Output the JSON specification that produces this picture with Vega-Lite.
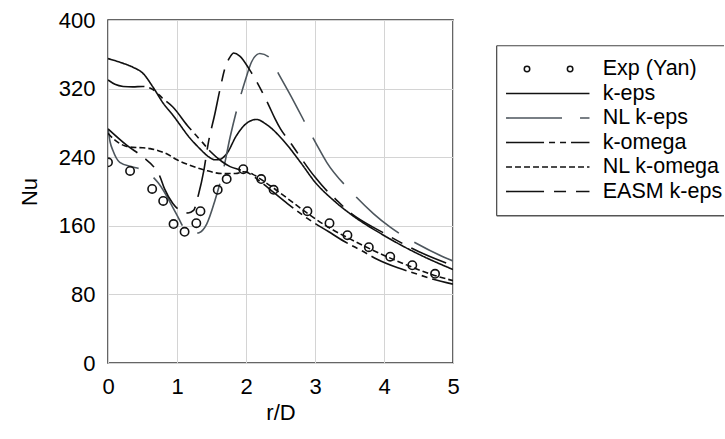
{
  "$schema": "https://vega.github.io/schema/vega-lite/v6.json",
  "background": "white",
  "padding": {"left": 17, "top": 8, "right": 0, "bottom": 0},
  "bounds": "flush",
  "spacing": 43,
  "datasets": {
    "curves": [
      {"series":"k-eps","x":0,"y":355},{"series":"k-eps","x":0.2,"y":350},{"series":"k-eps","x":0.36,"y":345},{"series":"k-eps","x":0.51,"y":337.5},{"series":"k-eps","x":0.65,"y":322},{"series":"k-eps","x":0.8,"y":303},{"series":"k-eps","x":0.95,"y":288},{"series":"k-eps","x":1.05,"y":277},{"series":"k-eps","x":1.15,"y":266},{"series":"k-eps","x":1.33,"y":250},{"series":"k-eps","x":1.45,"y":241},{"series":"k-eps","x":1.55,"y":237},{"series":"k-eps","x":1.62,"y":237.5},{"series":"k-eps","x":1.72,"y":244},{"series":"k-eps","x":1.86,"y":265},{"series":"k-eps","x":2.0,"y":279},{"series":"k-eps","x":2.15,"y":284},{"series":"k-eps","x":2.3,"y":278},{"series":"k-eps","x":2.54,"y":259.6},{"series":"k-eps","x":2.79,"y":234},{"series":"k-eps","x":3.0,"y":211},{"series":"k-eps","x":3.27,"y":189.6},{"series":"k-eps","x":3.51,"y":174},{"series":"k-eps","x":4.0,"y":148.7},{"series":"k-eps","x":4.5,"y":127},{"series":"k-eps","x":5.0,"y":109},
      {"series":"NL k-eps","x":0,"y":273},{"series":"NL k-eps","x":0.03,"y":258},{"series":"NL k-eps","x":0.07,"y":248},{"series":"NL k-eps","x":0.17,"y":234},{"series":"NL k-eps","x":0.36,"y":228.5},{"series":"NL k-eps","x":0.53,"y":224.6},{"series":"NL k-eps","x":0.73,"y":209.8},{"series":"NL k-eps","x":0.99,"y":174},{"series":"NL k-eps","x":1.11,"y":156.5},{"series":"NL k-eps","x":1.24,"y":151},{"series":"NL k-eps","x":1.32,"y":152},{"series":"NL k-eps","x":1.43,"y":162},{"series":"NL k-eps","x":1.55,"y":189.6},{"series":"NL k-eps","x":1.67,"y":224.6},{"series":"NL k-eps","x":1.77,"y":263.5},{"series":"NL k-eps","x":1.89,"y":302.5},{"series":"NL k-eps","x":1.99,"y":329.7},{"series":"NL k-eps","x":2.08,"y":351},{"series":"NL k-eps","x":2.2,"y":361},{"series":"NL k-eps","x":2.33,"y":357},{"series":"NL k-eps","x":2.47,"y":337.5},{"series":"NL k-eps","x":2.62,"y":316},{"series":"NL k-eps","x":3.03,"y":253.8},{"series":"NL k-eps","x":3.17,"y":234},{"series":"NL k-eps","x":3.51,"y":201},{"series":"NL k-eps","x":3.85,"y":174},{"series":"NL k-eps","x":4.09,"y":158.4},{"series":"NL k-eps","x":4.48,"y":139},{"series":"NL k-eps","x":4.87,"y":123.4},{"series":"NL k-eps","x":5,"y":119},
      {"series":"k-omega","x":0,"y":330},{"series":"k-omega","x":0.1,"y":325},{"series":"k-omega","x":0.22,"y":322.5},{"series":"k-omega","x":0.36,"y":322},{"series":"k-omega","x":0.5,"y":322.5},{"series":"k-omega","x":0.65,"y":319},{"series":"k-omega","x":0.8,"y":308},{"series":"k-omega","x":0.94,"y":298.6},{"series":"k-omega","x":1.15,"y":277},{"series":"k-omega","x":1.36,"y":258},{"series":"k-omega","x":1.48,"y":247},{"series":"k-omega","x":1.65,"y":235},{"series":"k-omega","x":1.77,"y":229},{"series":"k-omega","x":1.9,"y":225.5},{"series":"k-omega","x":2.0,"y":223},{"series":"k-omega","x":2.2,"y":212},{"series":"k-omega","x":2.4,"y":199},{"series":"k-omega","x":2.6,"y":186},{"series":"k-omega","x":2.9,"y":168},{"series":"k-omega","x":3.2,"y":153},{"series":"k-omega","x":3.42,"y":142},{"series":"k-omega","x":3.7,"y":130},{"series":"k-omega","x":3.9,"y":121},{"series":"k-omega","x":4.2,"y":111},{"series":"k-omega","x":4.43,"y":105},{"series":"k-omega","x":4.7,"y":98},{"series":"k-omega","x":5,"y":92},
      {"series":"NL k-omega","x":0,"y":268},{"series":"NL k-omega","x":0.07,"y":262},{"series":"NL k-omega","x":0.15,"y":257},{"series":"NL k-omega","x":0.25,"y":253},{"series":"NL k-omega","x":0.36,"y":251.5},{"series":"NL k-omega","x":0.5,"y":251},{"series":"NL k-omega","x":0.61,"y":250},{"series":"NL k-omega","x":0.75,"y":247},{"series":"NL k-omega","x":0.85,"y":244},{"series":"NL k-omega","x":1.0,"y":237},{"series":"NL k-omega","x":1.14,"y":232},{"series":"NL k-omega","x":1.4,"y":225},{"series":"NL k-omega","x":1.65,"y":221},{"series":"NL k-omega","x":1.85,"y":221},{"series":"NL k-omega","x":1.96,"y":223},{"series":"NL k-omega","x":2.1,"y":220},{"series":"NL k-omega","x":2.2,"y":215},{"series":"NL k-omega","x":2.4,"y":204},{"series":"NL k-omega","x":2.6,"y":192},{"series":"NL k-omega","x":2.9,"y":174},{"series":"NL k-omega","x":3.2,"y":158},{"series":"NL k-omega","x":3.5,"y":145},{"series":"NL k-omega","x":3.8,"y":133},{"series":"NL k-omega","x":4.1,"y":122},{"series":"NL k-omega","x":4.4,"y":112},{"series":"NL k-omega","x":4.7,"y":103},{"series":"NL k-omega","x":5,"y":96},
      {"series":"EASM k-eps","x":0,"y":273},{"series":"EASM k-eps","x":0.27,"y":254},{"series":"EASM k-eps","x":0.51,"y":240},{"series":"EASM k-eps","x":0.68,"y":227},{"series":"EASM k-eps","x":0.75,"y":218},{"series":"EASM k-eps","x":0.82,"y":203},{"series":"EASM k-eps","x":0.94,"y":186},{"series":"EASM k-eps","x":1.09,"y":176},{"series":"EASM k-eps","x":1.16,"y":175},{"series":"EASM k-eps","x":1.24,"y":178},{"series":"EASM k-eps","x":1.31,"y":196},{"series":"EASM k-eps","x":1.39,"y":225},{"series":"EASM k-eps","x":1.45,"y":255},{"series":"EASM k-eps","x":1.55,"y":291},{"series":"EASM k-eps","x":1.62,"y":318},{"series":"EASM k-eps","x":1.7,"y":345},{"series":"EASM k-eps","x":1.77,"y":357},{"series":"EASM k-eps","x":1.82,"y":361.5},{"series":"EASM k-eps","x":1.91,"y":358},{"series":"EASM k-eps","x":2.06,"y":341},{"series":"EASM k-eps","x":2.33,"y":300.5},{"series":"EASM k-eps","x":2.42,"y":285},{"series":"EASM k-eps","x":2.5,"y":273},{"series":"EASM k-eps","x":2.62,"y":259.6},{"series":"EASM k-eps","x":3.0,"y":216.8},{"series":"EASM k-eps","x":3.17,"y":201},{"series":"EASM k-eps","x":3.27,"y":193.4},{"series":"EASM k-eps","x":3.47,"y":178},{"series":"EASM k-eps","x":4.0,"y":151.4},{"series":"EASM k-eps","x":4.5,"y":130},{"series":"EASM k-eps","x":5,"y":113.7},
      {"series":"Exp (Yan)","x":0,"y":234},{"series":"Exp (Yan)","x":0.32,"y":224},{"series":"Exp (Yan)","x":0.64,"y":203},{"series":"Exp (Yan)","x":0.8,"y":189},{"series":"Exp (Yan)","x":0.95,"y":162},{"series":"Exp (Yan)","x":1.11,"y":153},{"series":"Exp (Yan)","x":1.28,"y":163},{"series":"Exp (Yan)","x":1.34,"y":177},{"series":"Exp (Yan)","x":1.59,"y":202},{"series":"Exp (Yan)","x":1.72,"y":214.5},{"series":"Exp (Yan)","x":1.96,"y":226},{"series":"Exp (Yan)","x":2.22,"y":214.5},{"series":"Exp (Yan)","x":2.4,"y":202},{"series":"Exp (Yan)","x":2.89,"y":177},{"series":"Exp (Yan)","x":3.21,"y":163},{"series":"Exp (Yan)","x":3.47,"y":149},{"series":"Exp (Yan)","x":3.78,"y":135},{"series":"Exp (Yan)","x":4.09,"y":124},{"series":"Exp (Yan)","x":4.41,"y":114},{"series":"Exp (Yan)","x":4.74,"y":104}
    ],
    "entries": [
      {"series":"Exp (Yan)","order":1},
      {"series":"k-eps","order":2},
      {"series":"NL k-eps","order":3},
      {"series":"k-omega","order":4},
      {"series":"NL k-omega","order":5},
      {"series":"EASM k-eps","order":6}
    ]
  },
  "hconcat": [
    {
      "width": 345,
      "height": 343,
      "data": {"name": "curves"},
      "view": {"stroke": "#333333", "strokeWidth": 1.5},
      "encoding": {
        "x": {"field": "x", "type": "quantitative", "scale": {"domain": [0, 5], "nice": false, "zero": false},
              "axis": {"values": [0,1,2,3,4,5], "title": "r/D", "labelFlush": false, "labelPadding": 13, "titlePadding": 5, "grid": true}},
        "y": {"field": "y", "type": "quantitative", "scale": {"domain": [0, 400], "nice": false},
              "axis": {"values": [0,80,160,240,320,400], "title": "Nu", "labelPadding": 13, "titlePadding": 17, "grid": true}}
      },
      "layer": [
        {
          "transform": [{"filter": "datum.series !== 'Exp (Yan)'"}],
          "mark": {"type": "line", "interpolate": "monotone", "strokeWidth": 1.6, "clip": true},
          "encoding": {
            "color": {"field": "series", "type": "nominal", "legend": null,
                      "scale": {"domain": ["k-eps","NL k-eps","k-omega","NL k-omega","EASM k-eps"], "range": ["#111111","#4d565d","#111111","#111111","#111111"]}},
            "strokeDash": {"field": "series", "type": "nominal", "legend": null,
                      "scale": {"domain": ["k-eps","NL k-eps","k-omega","NL k-omega","EASM k-eps"], "range": [[1,0],[56,18],[38,5,6,5,6,5],[6,3],[38,10,12,10]]}}
          }
        },
        {
          "transform": [{"filter": "datum.series === 'Exp (Yan)'"}],
          "mark": {"type": "point", "shape": "circle", "filled": false, "size": 70, "strokeWidth": 1.6, "color": "#111111", "opacity": 1, "clip": true},
          "encoding": {}
        }
      ]
    },
    {
      "width": 228,
      "height": 343,
      "view": {"stroke": null},
      "layer": [
        {
          "data": {"values": [{}]},
          "mark": {"type": "rule", "color": "#444444", "strokeWidth": 1.2},
          "encoding": {
            "x": {"datum": 0.003, "type": "quantitative", "scale": {"domain": [0, 1]}, "axis": null},
            "x2": {"datum": 1},
            "y": {"datum": 0.052, "type": "quantitative", "scale": {"domain": [-0.74, 12.98], "reverse": true}, "axis": null}
          }
        },
        {
          "data": {"values": [{}]},
          "mark": {"type": "rule", "color": "#555555", "strokeWidth": 1.4},
          "encoding": {
            "x": {"datum": 0.003, "type": "quantitative"},
            "x2": {"datum": 1},
            "y": {"datum": 6.988, "type": "quantitative"}
          }
        },
        {
          "data": {"values": [{}]},
          "mark": {"type": "rule", "color": "#444444", "strokeWidth": 1.2},
          "encoding": {
            "x": {"datum": 0.003, "type": "quantitative"},
            "y": {"datum": 0.052, "type": "quantitative"},
            "y2": {"datum": 6.988}
          }
        },
        {
          "data": {"name": "entries"},
          "transform": [{"filter": "datum.series !== 'Exp (Yan)'"}],
          "mark": {"type": "rule", "strokeWidth": 1.6},
          "encoding": {
            "x": {"datum": 0.044, "type": "quantitative"},
            "x2": {"datum": 0.41},
            "y": {"field": "order", "type": "quantitative"},
            "color": {"field": "series", "type": "nominal", "legend": null,
                      "scale": {"domain": ["k-eps","NL k-eps","k-omega","NL k-omega","EASM k-eps"], "range": ["#111111","#4d565d","#111111","#111111","#111111"]}},
            "strokeDash": {"field": "series", "type": "nominal", "legend": null,
                      "scale": {"domain": ["k-eps","NL k-eps","k-omega","NL k-omega","EASM k-eps"], "range": [[1,0],[56,18],[38,5,6,5,6,5],[6,3],[38,10,12,10]]}}
          }
        },
        {
          "data": {"name": "entries"},
          "transform": [{"filter": "datum.series === 'Exp (Yan)'"}],
          "mark": {"type": "point", "shape": "circle", "filled": false, "size": 30, "strokeWidth": 1.5, "color": "#111111", "opacity": 1},
          "encoding": {
            "x": {"datum": 0.136, "type": "quantitative"},
            "y": {"field": "order", "type": "quantitative"}
          }
        },
        {
          "data": {"name": "entries"},
          "transform": [{"filter": "datum.series === 'Exp (Yan)'"}],
          "mark": {"type": "point", "shape": "circle", "filled": false, "size": 30, "strokeWidth": 1.5, "color": "#111111", "opacity": 1},
          "encoding": {
            "x": {"datum": 0.325, "type": "quantitative"},
            "y": {"field": "order", "type": "quantitative"}
          }
        },
        {
          "data": {"name": "entries"},
          "mark": {"type": "text", "align": "left", "baseline": "middle", "fontSize": 21.5, "font": "Liberation Sans", "color": "#000000"},
          "encoding": {
            "x": {"datum": 0.468, "type": "quantitative"},
            "y": {"field": "order", "type": "quantitative"},
            "text": {"field": "series", "type": "nominal"}
          }
        }
      ]
    }
  ],
  "config": {
    "font": "Liberation Sans",
    "axis": {
      "labelFont": "Liberation Sans", "labelFontSize": 22, "labelColor": "#000000",
      "titleFont": "Liberation Sans", "titleFontSize": 22, "titleFontWeight": "normal", "titleColor": "#000000",
      "gridColor": "#d4d4d4", "gridWidth": 1, "domain": false, "ticks": false
    }
  }
}
